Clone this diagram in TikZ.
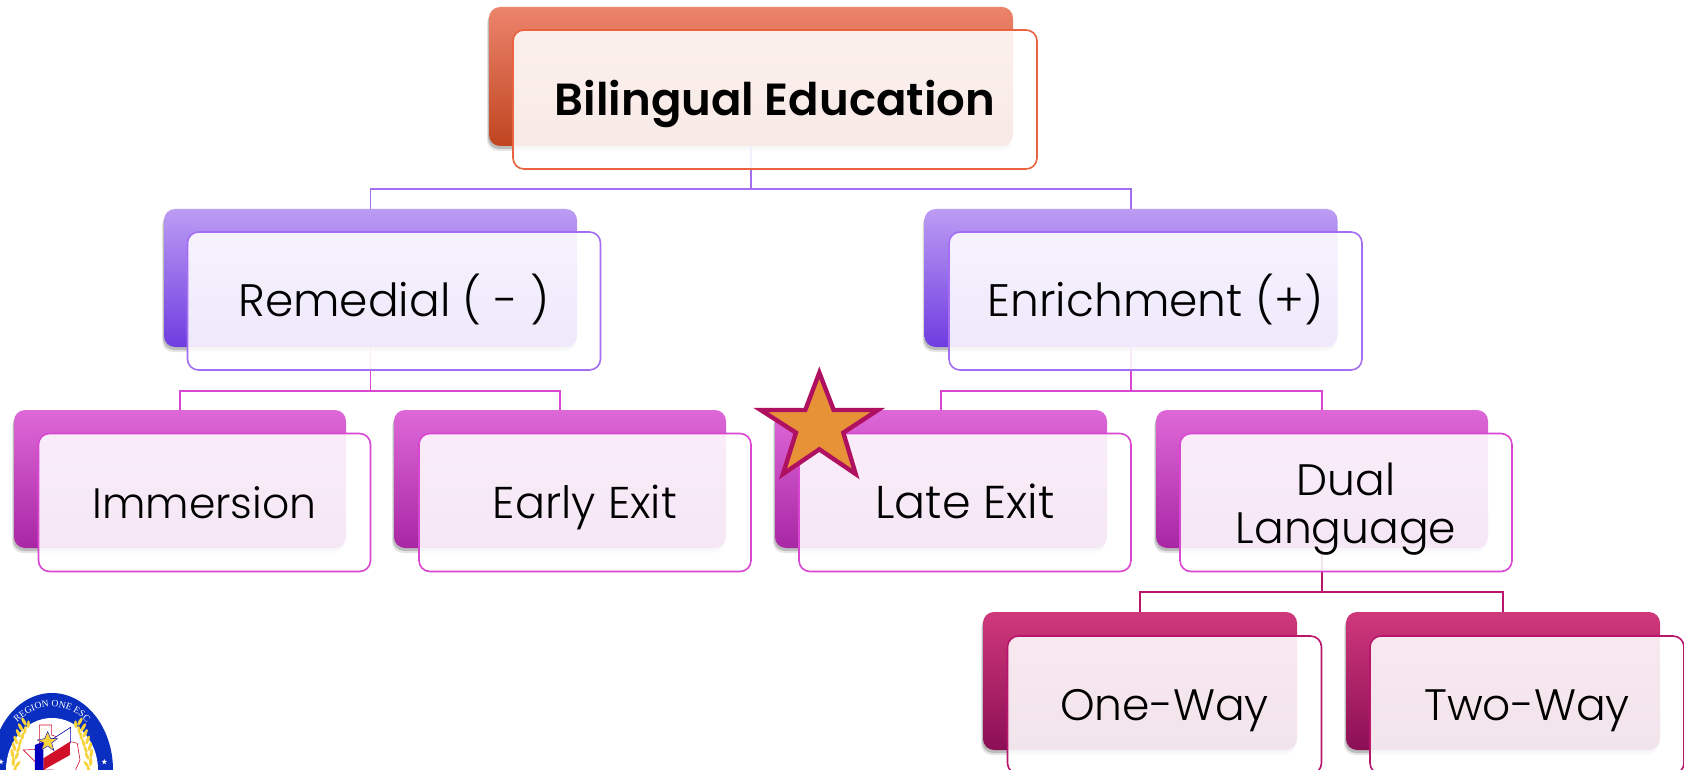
\documentclass[tikz,border=0pt]{standalone}
\usepackage{fontspec}
\setmainfont{Poppins Light}[BoldFont=Poppins SemiBold]
\newfontfamily\logofont{Liberation Serif}
\usetikzlibrary{decorations.text}
\definecolor{rootA}{HTML}{EC846C}\definecolor{rootB}{HTML}{C04520}\definecolor{rootL}{HTML}{E9633E}
\definecolor{remA}{HTML}{BC9CF4}\definecolor{remB}{HTML}{6F3CE0}\definecolor{remL}{HTML}{A36EF2}
\definecolor{magA}{HTML}{DE68D8}\definecolor{magB}{HTML}{A827A4}\definecolor{magL}{HTML}{D946D2}
\definecolor{wayA}{HTML}{D0387C}\definecolor{wayB}{HTML}{8C0F55}\definecolor{wayL}{HTML}{B8156C}
\definecolor{starF}{HTML}{E89238}\definecolor{starL}{HTML}{B01060}
\definecolor{logoB}{HTML}{0A2FC0}\definecolor{logoY}{HTML}{F8D43C}\definecolor{logoR}{HTML}{D01028}
\newcommand{\fsz}[1]{\fontsize{#1}{#1}\selectfont}
\tikzset{
  backbox/.style 2 args={draw=none,rounded corners=11pt,top color=#1,bottom color=#2,
    inner sep=0pt,
    preaction={fill=black,fill opacity=.10,transform canvas={xshift=-2pt,yshift=-5pt}},
    preaction={fill=black,fill opacity=.18,transform canvas={xshift=-1pt,yshift=-3pt}}},
  frontbox/.style={rounded corners=11pt,fill=white,fill opacity=.89,text opacity=1,line width=1.6pt,
    inner sep=0pt,align=center,text=black,text height=40pt,text depth=9pt},
  conn/.style={line width=1.4pt},
  rootB/.style={backbox={rootA}{rootB},minimum width=524pt,minimum height=139pt},
  rootF/.style={frontbox,draw=rootL,minimum width=524pt,minimum height=139pt},
  remBx/.style={backbox={remA}{remB},minimum width=413pt,minimum height=138pt},
  remFx/.style={frontbox,draw=remL,minimum width=413pt,minimum height=138pt},
  magBx/.style={backbox={magA}{magB},minimum width=332pt,minimum height=138pt},
  magFx/.style={frontbox,draw=magL,minimum width=332pt,minimum height=138pt},
  wayBx/.style={backbox={wayA}{wayB},minimum width=314pt,minimum height=138pt},
  wayFx/.style={frontbox,draw=wayL,minimum width=314pt,minimum height=138pt},
  leaf/.style={fill=logoY},
}
\begin{document}
\begin{tikzpicture}[x=1pt,y=-1pt]
\useasboundingbox (0,0) rectangle (1684,770);
\clip (0,0) rectangle (1684,770);
\fill[white] (0,0) rectangle (1684,770);
% back boxes
\coordinate (bus1) at (751,189);
\coordinate (bus2) at (370,391);
\coordinate (bus3) at (1131,391);
\coordinate (bus4) at (1322,592);
\node[rootB] (rb) at (751,76.5) {};
\node[remBx] (lb) at (370.5,278) {};
\node[remBx] (eb) at (1131,278) {};
\node[magBx] (ib) at (180,479) {};
\node[magBx] (xb) at (560,479) {};
\node[magBx] (tb) at (941,479) {};
\node[magBx] (db) at (1322,479) {};
\node[wayBx] (ob) at (1140,681) {};
\node[wayBx] (wb) at (1503,681) {};
% connectors
\draw[conn,remL] (rb.south) -- (rb.south |- bus1) -| (lb.north);
\draw[conn,remL] (rb.south |- bus1) -| (eb.north);
\draw[conn,magL] (lb.south) -- (lb.south |- bus2) -| (ib.north);
\draw[conn,magL] (lb.south |- bus2) -| (xb.north);
\draw[conn,magL] (eb.south) -- (eb.south |- bus3) -| (tb.north);
\draw[conn,magL] (eb.south |- bus3) -| (db.north);
\draw[conn,wayL] (db.south) -- (db.south |- bus4) -| (ob.north);
\draw[conn,wayL] (db.south |- bus4) -| (wb.north);
% front boxes
\node[rootF,font=\fsz{45}\bfseries,text height=41pt] (rf) at (775,99.5) {Bilingual Education};
\node[remFx,font=\fsz{45.5}] (lf) at (394,301) {Remedial ( - )};
\node[remFx,font=\fsz{45.5}] (ef) at (1155.5,301) {Enrichment (+)};
\node[magFx,font=\fsz{42.5}] (if) at (204.5,502.5) {Immersion};
\node[magFx,font=\fsz{44.5}] (xf) at (585,502.5) {Early Exit};
\node[magFx,font=\fsz{46}] (tf) at (965,502.5) {Late Exit};
\node[magFx,font=\fsz{44},text height=,text depth=] (df) at (1346,502.5) {\rule{0pt}{46pt}Dual\\[4pt]Language};
\node[wayFx,font=\fsz{44}] (of) at (1164.5,705) {One-Way};
\node[wayFx,font=\fsz{44}] (wf) at (1527,705) {Two-Way};
% star
\begin{scope}[shift={(740,350)},x=.3333pt,y=-.3333pt]
\draw[fill=starF,draw=starL,line width=4.4pt,miter limit=10]
 (238,68)--(281,180)--(414,180)--(310,248)--(347,372)--(238,298)--(129,372)--(168,248)--(62,180)--(196,180)--cycle;
\end{scope}
% logo
\fill[logoB] (52,770) ellipse (61 and 77);
\fill[white] (52,770) ellipse (46 and 52);
\path[decorate,decoration={text along path,text align=center,
  text={|\logofont\fsz{9.6}\color{white}|REGION ONE ESC}}]
  (-1,770) arc[start angle=180,end angle=360,x radius=53,y radius=63];
\begin{scope}[shift={(0,690)},x=.3333pt,y=-.3333pt]
\draw[logoR,line width=.6pt] (118,105)--(155,105)--(155,135)--(212,155)--(232,160)--(240,210)--(222,250)--(195,262)--(190,300)--(160,240)--(135,240)--(105,215)--(70,180)--(118,178)--cycle;
\fill[white] (130,165)--(212,112)--(212,160)--(130,205)--cycle;
\draw[blue!70!black,line width=.6pt] (130,165)--(212,112)--(212,160);
\fill[logoR] (130,205)--(210,155)--(210,195)--(130,240)--cycle;
\fill[blue!75!black] (105,165)--(130,155)--(130,240)--(105,270)--cycle;
\fill[logoY,draw=blue!70!black,line width=.4pt]
 (143,125)--(152,146)--(172,146)--(155,159)--(162,182)--(143,168)--(124,180)--(132,159)--(112,150)--(134,146)--cycle;
\foreach \x/\y/\r in {72/95/30,62/112/30,55/130/25,47/150/20,42/170/15,37/190/10,40/215/0,45/240/-10}{
  \fill[leaf,rotate around={\r:(\x,\y)}] (\x,\y) ellipse (5 and 14);
  \fill[leaf,rotate around={\r-35:(\x+13,\y+8)}] (\x+13,\y+8) ellipse (4.5 and 12);}
\foreach \x/\y/\r in {240/95/-30,250/112/-30,256/130/-25,263/150/-20,270/170/-15,274/190/-10,272/215/0,266/240/10}{
  \fill[leaf,rotate around={\r:(\x,\y)}] (\x,\y) ellipse (5 and 14);
  \fill[leaf,rotate around={\r+35:(\x-13,\y+8)}] (\x-13,\y+8) ellipse (4.5 and 12);}
\foreach \x/\y in {3/215,313/215}{
  \fill[white] (\x,\y-8)--(\x+2,\y-2)--(\x+8,\y-2)--(\x+3,\y+2)--(\x+5,\y+8)--(\x,\y+4)--(\x-5,\y+8)--(\x-3,\y+2)--(\x-8,\y-2)--(\x-2,\y-2)--cycle;}
\end{scope}
\end{tikzpicture}
\end{document}
